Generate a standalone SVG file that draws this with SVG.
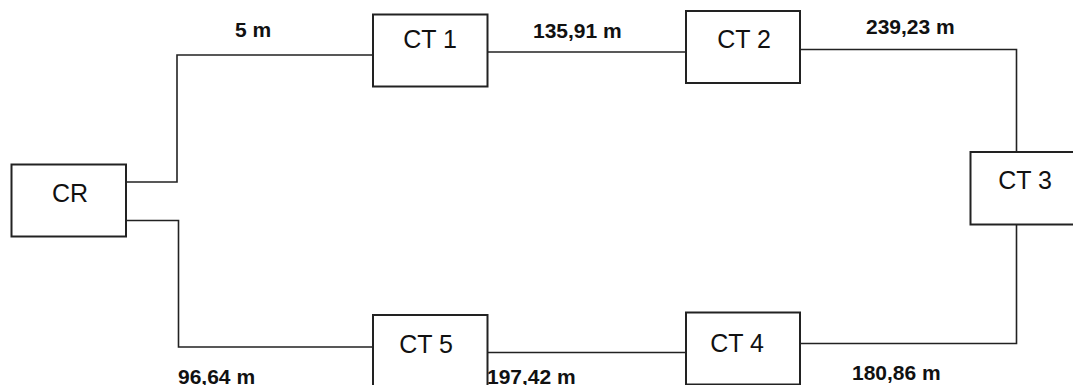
<svg xmlns="http://www.w3.org/2000/svg" width="1073" height="385" viewBox="0 0 1073 385">
<style>
.box{fill:#fff;stroke:#222;stroke-width:2}
.wire{fill:none;stroke:#222;stroke-width:1.6}
.name{font-family:"Liberation Sans",Arial,sans-serif;font-size:25px;fill:#111;text-anchor:middle}
.len{font-family:"Liberation Sans",Arial,sans-serif;font-size:21px;font-weight:bold;fill:#111}
</style>
<rect width="1073" height="385" fill="#fff"/>
<g id="connectors">
<polyline class="wire" points="126,182 177,182 177,55 373,55"/>
<polyline class="wire" points="487.5,52 686,52"/>
<polyline class="wire" points="800,49.5 1016.5,49.5 1016.5,152"/>
<polyline class="wire" points="1016.5,224.5 1016.5,343.5 800,343.5"/>
<polyline class="wire" points="686,352.5 487.5,352.5"/>
<polyline class="wire" points="126,220.5 178.5,220.5 178.5,347 373,347"/>
<text class="len" x="235" y="37">5 m</text>
<text class="len" x="533" y="37.5">135,91 m</text>
<text class="len" x="866" y="34">239,23 m</text>
<text class="len" x="852" y="380">180,86 m</text>
<text class="len" x="487" y="384">197,42 m</text>
<text class="len" x="178" y="384">96,64 m</text>
</g>
<g id="CR"><rect class="box" x="11.5" y="164.5" width="114.5" height="72"/><text class="name" x="70" y="202">CR</text></g>
<g id="CT1"><rect class="box" x="373" y="14.5" width="114.5" height="72"/><text class="name" x="430" y="48">CT 1</text></g>
<g id="CT2"><rect class="box" x="686" y="11" width="114" height="72"/><text class="name" x="744" y="48">CT 2</text></g>
<g id="CT3"><rect class="box" x="970.5" y="152" width="114" height="72.5"/><text class="name" x="1025" y="189">CT 3</text></g>
<g id="CT4"><rect class="box" x="686" y="312.5" width="114" height="72"/><text class="name" x="737" y="352">CT 4</text></g>
<g id="CT5"><rect class="box" x="373" y="315" width="114.5" height="72"/><text class="name" x="426" y="353">CT 5</text></g>
</svg>
